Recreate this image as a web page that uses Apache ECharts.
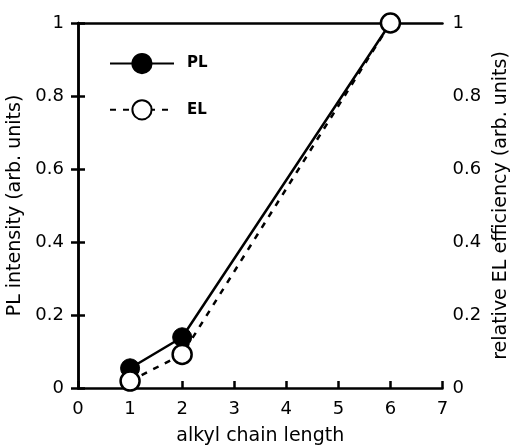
<!DOCTYPE html>
<html>
<head>
<meta charset="utf-8">
<script src="https://cdn.jsdelivr.net/npm/echarts@6/dist/echarts.min.js"></script>
<style>
  html, body { margin: 0; padding: 0; background: #fff; }
  #chart { width: 510px; height: 446px; }
</style>
</head>
<body>
<div id="chart"></div>
<script>
// Alkyl chain length vs. PL intensity and relative EL efficiency
const chainLength = [1, 2, 6];
const plIntensity = [0.054, 0.139, 1.0];
const elEfficiency = [0.019, 0.092, 1.0];

const FONT = 'DejaVu Sans';
const INK = '#000';

const plData = chainLength.map((x, i) => [x, plIntensity[i]]);
const elData = chainLength.map((x, i) => [x, elEfficiency[i]]);

const chart = echarts.init(document.getElementById('chart'), null, { renderer: 'canvas' });

const yAxisCommon = {
  type: 'value',
  min: 0,
  max: 1,
  interval: 0.2,
  nameLocation: 'middle',
  nameRotate: 90,
  nameTextStyle: { fontFamily: FONT, fontSize: 19, color: INK },
  axisLine: { show: true, lineStyle: { color: INK, width: 2.5 } },
  axisTick: { show: true, inside: true, length: 7, lineStyle: { color: INK, width: 2.5 } },
  axisLabel: { fontFamily: FONT, fontSize: 18, color: INK },
  splitLine: { show: false }
};

chart.setOption({
  animation: false,
  backgroundColor: '#fff',
  grid: { left: 78, right: 67.5, top: 23, bottom: 58, outerBoundsMode: 'none', containLabel: false },
  legend: {
    orient: 'vertical',
    left: 109,
    top: 53,
    padding: 0,
    itemWidth: 64,
    itemHeight: 24,
    itemGap: 25,
    textStyle: { fontFamily: FONT, fontSize: 15, fontWeight: 'bold', color: INK, padding: [0, 0, 0, 8] },
    data: ['PL', 'EL']
  },
  xAxis: [
    {
      type: 'value',
      min: 0,
      max: 7,
      interval: 1,
      name: 'alkyl chain length',
      nameLocation: 'middle',
      nameGap: 39,
      nameTextStyle: { fontFamily: FONT, fontSize: 19, color: INK },
      axisLine: { show: true, onZero: false, lineStyle: { color: INK, width: 2.5 } },
      axisTick: { show: true, inside: true, length: 7, lineStyle: { color: INK, width: 2.5 } },
      axisLabel: { fontFamily: FONT, fontSize: 18, color: INK, margin: 12 },
      splitLine: { show: false }
    },
    {
      type: 'value',
      position: 'top',
      min: 0,
      max: 7,
      axisLine: { show: true, onZero: false, lineStyle: { color: INK, width: 2.5 } },
      axisTick: { show: false },
      axisLabel: { show: false },
      splitLine: { show: false }
    }
  ],
  yAxis: [
    Object.assign({}, yAxisCommon, {
      position: 'left',
      name: 'PL intensity (arb. units)',
      nameGap: 52,
      axisLabel: Object.assign({}, yAxisCommon.axisLabel, { margin: 14 })
    }),
    Object.assign({}, yAxisCommon, {
      position: 'right',
      name: 'relative EL efficiency (arb. units)',
      nameGap: 46,
      axisLabel: Object.assign({}, yAxisCommon.axisLabel, { margin: 10 })
    })
  ],
  series: [
    {
      name: 'PL',
      type: 'line',
      xAxisIndex: 0,
      yAxisIndex: 0,
      data: plData,
      clip: false,
      symbol: 'circle',
      symbolSize: 19,
      z: 2,
      lineStyle: { color: INK, width: 2.5, type: 'solid' },
      itemStyle: { color: INK, borderColor: INK, borderWidth: 1 }
    },
    {
      name: 'EL',
      type: 'line',
      xAxisIndex: 0,
      yAxisIndex: 1,
      data: elData,
      clip: false,
      symbol: 'circle',
      symbolSize: 19,
      z: 3,
      lineStyle: { color: INK, width: 2.5, type: [6, 7] },
      itemStyle: { color: '#fff', borderColor: INK, borderWidth: 2.5 }
    }
  ]
});
</script>
</body>
</html>
